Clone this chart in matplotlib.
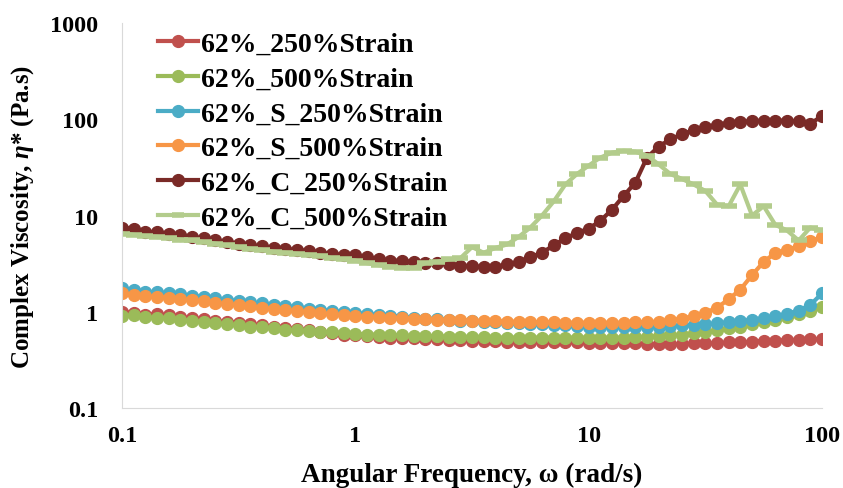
import numpy as np
import matplotlib
matplotlib.use('Agg')
import matplotlib.pyplot as plt

plt.rcParams['font.family'] = 'Liberation Serif'
plt.rcParams['font.weight'] = 'bold'
plt.rcParams['mathtext.fontset'] = 'custom'
plt.rcParams['mathtext.it'] = 'Liberation Serif:italic:bold'
plt.rcParams['mathtext.rm'] = 'Liberation Serif:bold'

# angular frequency sweep, 20 points per decade
freq = np.logspace(-1, 2, 61)

visc_250 = [1.00, 0.97, 0.93, 0.95, 0.92, 0.88, 0.86, 0.84, 0.80, 0.78,
            0.77, 0.74, 0.72, 0.70, 0.68, 0.66, 0.64, 0.62, 0.60, 0.58,
            0.57, 0.56, 0.55, 0.54, 0.53, 0.53, 0.52, 0.52, 0.51, 0.51,
            0.50, 0.50, 0.50, 0.49, 0.49, 0.49, 0.48, 0.48, 0.48, 0.48,
            0.47, 0.47, 0.47, 0.47, 0.47, 0.46, 0.46, 0.46, 0.46, 0.47,
            0.47, 0.47, 0.48, 0.48, 0.49, 0.50, 0.50, 0.51, 0.51, 0.52, 0.52]
visc_500 = [0.90, 0.92, 0.88, 0.86, 0.87, 0.83, 0.80, 0.78, 0.76, 0.74,
            0.72, 0.70, 0.69, 0.67, 0.65, 0.64, 0.63, 0.62, 0.61, 0.60,
            0.59, 0.58, 0.58, 0.57, 0.57, 0.56, 0.56, 0.56, 0.55, 0.55,
            0.55, 0.55, 0.54, 0.54, 0.54, 0.54, 0.54, 0.54, 0.54, 0.54,
            0.54, 0.54, 0.54, 0.54, 0.55, 0.55, 0.56, 0.57, 0.58, 0.60,
            0.62, 0.64, 0.67, 0.70, 0.74, 0.78, 0.83, 0.88, 0.95, 1.03, 1.12]
visc_s_250 = [1.75, 1.68, 1.62, 1.60, 1.56, 1.52, 1.47, 1.43, 1.38, 1.33,
              1.30, 1.25, 1.22, 1.18, 1.15, 1.12, 1.08, 1.05, 1.02, 0.99,
              0.97, 0.95, 0.93, 0.91, 0.89, 0.87, 0.85, 0.84, 0.82, 0.81,
              0.80, 0.79, 0.78, 0.77, 0.76, 0.75, 0.74, 0.73, 0.72, 0.71,
              0.70, 0.70, 0.69, 0.69, 0.69, 0.70, 0.70, 0.71, 0.72, 0.73,
              0.74, 0.76, 0.78, 0.80, 0.83, 0.86, 0.90, 0.95, 1.03, 1.18, 1.55]
visc_s_500 = [1.55, 1.50, 1.45, 1.42, 1.40, 1.36, 1.32, 1.28, 1.24, 1.20,
              1.17, 1.14, 1.10, 1.07, 1.04, 1.02, 0.99, 0.96, 0.94, 0.92,
              0.90, 0.89, 0.88, 0.87, 0.86, 0.85, 0.84, 0.83, 0.82, 0.82,
              0.81, 0.80, 0.80, 0.79, 0.79, 0.78, 0.78, 0.78, 0.77, 0.77,
              0.77, 0.77, 0.77, 0.77, 0.78, 0.78, 0.79, 0.82, 0.85, 0.90,
              0.98, 1.10, 1.35, 1.70, 2.40, 3.30, 4.10, 4.40, 4.80, 5.40, 6.00]
visc_c_250 = [7.5, 7.3, 6.8, 6.7, 6.5, 6.3, 6.0, 5.8, 5.5, 5.3,
              5.1, 4.9, 4.8, 4.6, 4.5, 4.4, 4.3, 4.1, 4.0, 3.9,
              3.9, 3.7, 3.5, 3.4, 3.4, 3.3, 3.2, 3.2, 3.1, 3.0,
              3.0, 2.9, 2.9, 3.1, 3.3, 3.7, 4.1, 4.9, 5.8, 6.6,
              7.3, 8.8, 11.5, 16, 22, 40, 52, 62, 70, 77,
              83, 88, 92, 94, 96, 97, 97, 97, 95, 90, 108]
visc_c_500 = [6.5, 6.3, 6.1, 6.0, 5.8, 5.6, 5.5, 5.3, 5.1, 4.9,
              4.7, 4.5, 4.4, 4.2, 4.1, 4.0, 3.9, 3.8, 3.6, 3.5,
              3.4, 3.2, 3.05, 2.95, 2.85, 2.85, 3.2, 3.3, 3.5, 3.6,
              4.7, 4.1, 4.6, 5.0, 6.0, 7.5, 10, 14, 21, 27,
              33, 40, 45, 47, 46, 42, 34, 27, 24, 21,
              18, 13, 12.5, 21, 10, 12.5, 8, 7, 5.5, 7.5, 7.0]

labels = ['62%_250%Strain', '62%_500%Strain', '62%_S_250%Strain',
          '62%_S_500%Strain', '62%_C_250%Strain', '62%_C_500%Strain']
colors = ['#C0504D', '#9BBB59', '#4BACC6', '#F79646', '#7A2A27', '#B3CC8C']
series = [visc_250, visc_500, visc_s_250, visc_s_500, visc_c_250, visc_c_500]

fig = plt.figure(figsize=(8.43, 4.89), dpi=100)
ax = fig.add_axes([0.1447, 0.1636, 0.8304, 0.7873])

for vals, lab, col in zip(series, labels, colors):
    if lab == '62%_C_500%Strain':
        ax.plot(freq, vals, color=col, lw=3, marker='_', ms=12, mew=4, label=lab)
    else:
        ax.plot(freq, vals, color=col, lw=3, marker='o', ms=8.5, label=lab)

ax.set_xscale('log')
ax.set_yscale('log')
ax.set_xlim(0.1, 100)
ax.set_ylim(0.1, 1000)
ax.set_xticks([0.1, 1, 10, 100])
ax.set_xticklabels(['0.1', '1', '10', '100'])
ax.set_yticks([0.1, 1, 10, 100, 1000])
ax.set_yticklabels(['0.1', '1', '10', '100', '1000'])
ax.minorticks_off()
ax.tick_params(length=0, labelsize=17.5)
ax.tick_params(axis='y', pad=17)
ax.tick_params(axis='x', pad=12)
for s in ['top', 'right']:
    ax.spines[s].set_visible(False)
for s in ['left', 'bottom']:
    ax.spines[s].set_color('#D9D9D9')

ax.set_xlabel('Angular Frequency, ω (rad/s)', fontsize=19.5, fontweight='bold', labelpad=12)
ax.set_ylabel(r'Complex Viscosity, $\eta$* (Pa.s)', fontsize=18, fontweight='bold', labelpad=10)

leg = ax.legend(loc='upper left', bbox_to_anchor=(0.051, 0.979), frameon=False, fontsize=20,
                handlelength=1.45, handletextpad=0.1, labelspacing=0.34, borderaxespad=0,
                borderpad=0)
for h in leg.get_lines():
    h.set_markersize(8.5)

fig.savefig('out.png', dpi=100)
